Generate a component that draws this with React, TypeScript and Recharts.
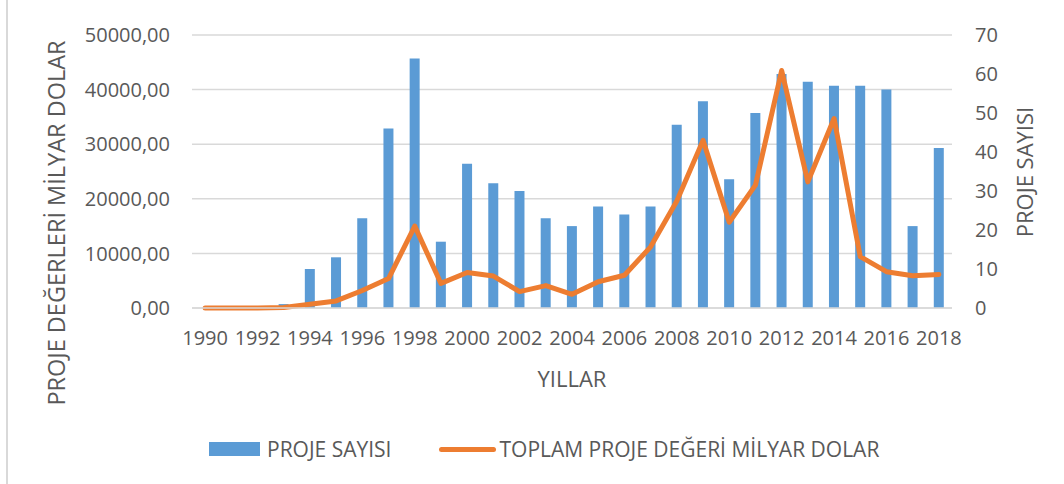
import React from 'react';
import {
  ComposedChart,
  Bar,
  Line,
  XAxis,
  YAxis,
  CartesianGrid,
  Legend,
} from 'recharts';

const years = [
  '1990', '1991', '1992', '1993', '1994', '1995', '1996', '1997', '1998', '1999',
  '2000', '2001', '2002', '2003', '2004', '2005', '2006', '2007', '2008', '2009',
  '2010', '2011', '2012', '2013', '2014', '2015', '2016', '2017', '2018',
];

// PROJE SAYISI (right axis)
const projectCounts = [
  0, 0, 0, 1, 10, 13, 23, 46, 64, 17,
  37, 32, 30, 23, 21, 26, 24, 26, 47, 53,
  33, 50, 60, 58, 57, 57, 56, 21, 41,
];

// TOPLAM PROJE DEĞERİ MİLYAR DOLAR (left axis)
const projectValues = [
  0, 0, 0, 100, 700, 1300, 3200, 5400, 15000, 4500,
  6500, 5850, 3000, 4100, 2500, 4800, 6000, 11200, 19600, 30700,
  15700, 22500, 43500, 23100, 34700, 9400, 6650, 5900, 6150,
];

const leftTicks = [0, 10000, 20000, 30000, 40000, 50000];
const rightTicks = [0, 10, 20, 30, 40, 50, 60, 70];

const data = years.map((y, i) => ({
  year: y,
  count: projectCounts[i],
  value: projectValues[i],
}));

const BAR_COLOR = '#5b9bd5';
const LINE_COLOR = '#ed7d31';
const TEXT_COLOR = '#595959';
const GRID_COLOR = '#d9d9d9';
const FONT = '"Open Sans", sans-serif';

const LeftTitle = () => (
  <text
    x={56}
    y={223}
    transform="rotate(-90 56 223)"
    textAnchor="middle"
    dominantBaseline="central"
    fill={TEXT_COLOR}
    fontSize={23.5}
    fontFamily={FONT}
  >
    PROJE DEĞERLERİ MİLYAR DOLAR
  </text>
);

const RightTitle = () => (
  <text
    x={1024}
    y={172}
    transform="rotate(-90 1024 172)"
    textAnchor="middle"
    dominantBaseline="central"
    fill={TEXT_COLOR}
    fontSize={22}
    fontFamily={FONT}
  >
    PROJE SAYISI
  </text>
);

const BottomTitle = () => (
  <text
    x={572}
    y={378}
    textAnchor="middle"
    dominantBaseline="central"
    fill={TEXT_COLOR}
    fontSize={22}
    fontFamily={FONT}
  >
    YILLAR
  </text>
);

const renderLegend = () => (
  <div
    style={{
      display: 'flex',
      alignItems: 'center',
      paddingLeft: 209,
      height: 40,
      fontFamily: FONT,
      fontSize: 21,
      color: TEXT_COLOR,
      whiteSpace: 'nowrap',
    }}
  >
    <span style={{ display: 'inline-block', width: 51, height: 14, background: BAR_COLOR }} />
    <span style={{ marginLeft: 7 }}>PROJE SAYISI</span>
    <span
      style={{
        display: 'inline-block',
        width: 57,
        height: 5,
        borderRadius: 3,
        background: LINE_COLOR,
        marginLeft: 48,
      }}
    />
    <span style={{ marginLeft: 3 }}>TOPLAM PROJE DEĞERİ MİLYAR DOLAR</span>
  </div>
);

const tickStyle = { fill: TEXT_COLOR, fontSize: 20, fontFamily: FONT };

export default function App() {
  return (
    <div
      style={{
        position: 'absolute',
        left: 0,
        top: 0,
        width: 1064,
        height: 484,
        background: '#fff',
        fontFamily: FONT,
      }}
    >
      <div
        style={{
          position: 'absolute',
          left: 6,
          top: 0,
          width: 2,
          height: 484,
          background: GRID_COLOR,
        }}
      />
      <ComposedChart
        width={1064}
        height={484}
        data={data}
        margin={{ top: 35, right: 0, bottom: 15, left: 0 }}
      >
        <CartesianGrid yAxisId="left" vertical={false} stroke={GRID_COLOR} strokeWidth={1.5} />
        <XAxis
          dataKey="year"
          height={121}
          interval={1}
          tickLine={false}
          tickSize={0}
          tickMargin={23}
          axisLine={{ stroke: GRID_COLOR, strokeWidth: 1.5 }}
          tick={tickStyle}
          label={<BottomTitle />}
        />
        <YAxis
          yAxisId="left"
          orientation="left"
          width={192}
          domain={[0, 50000]}
          ticks={leftTicks}
          tickFormatter={(v: number) => v.toFixed(2).replace('.', ',')}
          axisLine={false}
          tickLine={false}
          tickSize={0}
          tickMargin={22}
          tick={tickStyle}
          label={<LeftTitle />}
        />
        <YAxis
          yAxisId="right"
          orientation="right"
          width={112}
          domain={[0, 70]}
          ticks={rightTicks}
          axisLine={false}
          tickLine={false}
          tickSize={0}
          tickMargin={23}
          tick={tickStyle}
          label={<RightTitle />}
        />
        <Legend verticalAlign="bottom" height={40} content={renderLegend} />
        <Bar
          yAxisId="right"
          dataKey="count"
          name="PROJE SAYISI"
          fill={BAR_COLOR}
          barSize={10}
          isAnimationActive={false}
        />
        <Line
          yAxisId="left"
          type="linear"
          dataKey="value"
          name="TOPLAM PROJE DEĞERİ MİLYAR DOLAR"
          stroke={LINE_COLOR}
          strokeWidth={5}
          strokeLinejoin="round"
          strokeLinecap="round"
          dot={false}
          activeDot={false}
          isAnimationActive={false}
        />
      </ComposedChart>
    </div>
  );
}
